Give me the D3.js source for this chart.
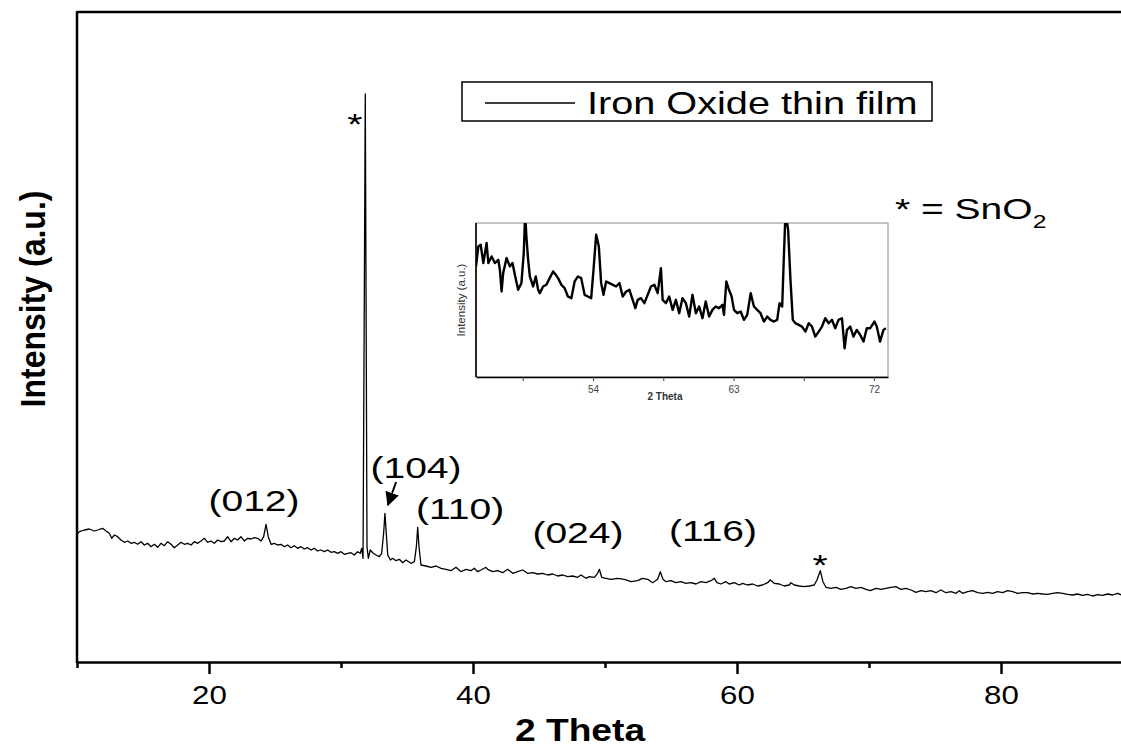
<!DOCTYPE html>
<html>
<head>
<meta charset="utf-8">
<script src="https://cdnjs.cloudflare.com/ajax/libs/d3/7.8.5/d3.min.js"></script>
<style>
body { margin: 0; background: #fff; }
svg { display: block; font-family: "Liberation Sans", Arial, sans-serif; }
</style>
</head>
<body>
<div id="chart"></div>
<script>
// main XRD pattern (2 theta, intensity a.u.)
var theta = [10.05,10.18,10.56,10.93,11.31,11.57,11.94,12.20,12.45,12.63,12.83,13.08,13.33,13.59,13.84,14.09,14.34,14.60,14.85,15.10,15.35,15.61,15.86,16.11,16.36,16.62,16.87,17.12,17.37,17.63,17.88,18.13,18.38,18.64,18.89,19.14,19.39,19.65,19.90,20.15,20.40,20.66,20.91,21.16,21.41,21.67,21.92,22.17,22.42,22.68,22.93,23.18,23.43,23.69,23.94,24.14,24.32,24.49,24.70,24.95,25.20,25.45,25.71,25.96,26.21,26.46,26.72,26.97,27.22,27.47,27.73,27.98,28.23,28.48,28.74,28.99,29.24,29.49,29.75,30.00,30.25,30.51,
    30.76,31.01,31.26,31.46,31.57,31.67,31.84,31.97,32.07,32.22,32.40,32.65,32.90,33.08,33.23,33.33,33.43,33.54,33.74,33.91,34.17,34.42,34.67,34.92,35.30,35.56,35.71,35.81,35.91,36.06,36.44,36.82,37.20,37.58,37.95,38.33,38.71,39.09,39.47,39.85,40.10,40.35,40.61,40.98,41.11,41.49,41.87,42.25,42.63,43.01,43.38,43.76,44.14,44.52,44.90,45.28,45.66,46.04,46.41,46.79,47.17,47.55,47.93,48.18,48.56,48.81,49.19,49.44,49.57,49.75,50.08,50.45,50.96,
    51.46,51.97,52.47,52.85,53.23,53.61,53.99,54.19,54.39,54.62,54.99,55.37,55.75,56.13,56.51,56.89,57.27,57.65,58.03,58.28,58.48,58.78,59.16,59.41,59.79,60.17,60.42,60.80,61.18,61.56,61.94,62.32,62.52,62.82,63.20,63.58,63.96,64.09,64.34,64.72,65.10,65.48,65.85,66.06,66.31,66.51,66.74,67.12,67.50,67.87,68.25,68.63,69.01,69.39,69.77,70.10,
    70.53,70.91,71.28,71.66,72.04,72.42,72.80,73.18,73.56,73.94,74.31,74.69,75.07,75.45,75.83,76.21,76.59,76.84,77.09,77.47,77.85,78.23,78.61,78.99,79.36,79.74,80.12,80.50,80.88,81.26,81.64,82.02,82.40,82.77,83.15,83.53,83.91,84.29,84.67,85.05,85.43,85.80,86.18,86.56,86.94,87.32,87.70,88.08,88.46,88.84,89.17];
var intensity = [1283,1303,1320,1330,1310,1320,1337,1310,1287,1237,1270,1253,1220,1197,1210,1187,1197,1177,1203,1170,1187,1153,1177,1147,1187,1163,1203,1177,1143,1170,1197,1177,1187,1170,1203,1187,1210,1237,1197,1210,1187,1220,1203,1210,1253,1203,1237,1220,1253,1210,1237,1230,1243,1237,1210,1253,1377,1253,1177,1187,1170,1177,1153,1170,1143,1163,1137,1153,1130,1143,1120,1137,1110,1120,1103,1120,1097,1103,1087,1103,1077,1087,
    1093,1070,1103,1087,1137,1037,5680,1153,1037,1120,1093,1070,1053,1087,1287,1487,1287,1070,1020,1037,1013,1027,993,1020,987,1003,1153,1347,1153,970,960,947,960,937,927,913,947,903,927,913,937,903,920,947,927,903,913,893,927,887,903,920,887,893,880,887,870,880,860,870,853,860,847,870,837,853,847,887,927,847,837,827,837,
    827,803,813,837,827,793,827,903,827,803,813,793,803,787,793,780,803,793,813,837,793,780,803,780,793,770,787,770,780,760,770,793,820,787,780,760,770,793,770,760,753,760,770,820,913,803,747,737,747,727,737,753,737,747,727,713,
    737,727,737,747,753,727,737,720,697,713,703,713,693,720,693,703,687,713,687,703,713,693,687,697,687,703,693,713,703,687,693,693,680,687,680,677,687,693,687,677,670,680,667,677,660,673,667,680,670,687,667];

// inset: enlarged 46.5 - 73 region
var insetTheta = [46.50,46.65,46.80,46.97,47.18,47.29,47.50,47.71,47.93,48.03,48.14,48.24,48.46,48.67,48.84,48.99,49.20,49.41,49.56,49.65,49.73,49.84,49.95,50.16,50.33,50.48,50.59,50.80,51.01,51.22,51.44,51.61,51.76,51.97,52.18,52.39,52.61,52.82,53.03,53.24,53.46,53.67,53.88,54.03,54.20,54.37,54.52,54.67,54.84,55.05,55.27,55.48,55.69,55.90,56.12,56.33,56.54,56.71,56.86,57.07,57.29,57.50,57.71,57.93,58.14,58.35,58.46,58.67,58.88,59.10,59.31,59.52,59.73,59.95,60.16,60.37,60.59,60.80,61.01,61.22,61.44,61.65,61.86,62.07,62.29,62.39,62.54,62.71,62.88,63.03,63.24,63.46,63.67,63.88,64.10,64.31,64.52,64.73,64.95,65.16,65.37,65.59,65.80,65.95,66.12,66.22,66.33,66.50,66.65,66.80,66.97,67.18,67.39,67.61,67.82,68.03,68.24,68.46,68.67,68.88,69.10,69.31,69.52,69.73,69.95,70.12,70.27,70.48,70.69,70.90,71.12,71.33,71.54,71.76,72.03,72.18,72.39,72.61,72.76];
var insetIntensity = [331,391,396,341,401,341,361,341,351,321,256,311,356,331,341,306,261,281,371,490,420,351,301,271,301,261,251,271,276,296,316,306,296,276,266,241,236,286,301,296,246,241,236,321,426,391,281,246,286,281,276,271,281,241,256,261,231,206,231,236,221,246,271,276,251,326,231,221,241,201,231,191,236,221,181,246,191,211,176,226,181,201,211,206,216,186,286,261,241,201,191,196,171,186,251,211,201,191,166,181,171,166,171,221,211,351,490,441,291,171,161,156,151,136,161,151,121,136,151,176,161,171,146,171,176,86,141,151,121,141,126,106,146,146,166,151,106,141,146];

var majorTicks = [20, 40, 60, 80];
var minorTicks = [10, 30, 50, 70, 90];
var insetTicks = [49.5, 54, 58.5, 63, 67.5, 72];
var insetTickLabels = [54, 63, 72];

// peak labels: text, 2theta position, intensity level of baseline
var peakNames = ['(012)', '(104)', '(110)', '(024)', '(116)'];
var peakTheta = [23.41, 35.68, 39.02, 47.95, 58.18];
var peakLevel = [1510, 1840, 1430, 1190, 1210];
var starTheta = [31.05, 66.29];
var starLevel = [5280, 870];

var chart_width = 1121;
var chart_height = 747;
var sx = 1.3; // horizontal stretch of the original figure

var svg = d3.select('#chart')
    .append('svg')
    .attr('width', chart_width)
    .attr('height', chart_height);

var x = d3.scaleLinear().domain([10, 90]).range([77, 77 + 80 * 13.2]);
var y = d3.scaleLinear().domain([0, 6500]).range([662, 12]);

svg.append('clipPath').attr('id', 'mainclip')
    .append('rect').attr('x', 77).attr('y', 12).attr('width', 1100).attr('height', 650);

// main line
var line = d3.line()
    .x(function(d){ return x(d[0]); })
    .y(function(d){ return y(d[1]); });

svg.append('path')
    .datum(d3.zip(theta, intensity))
    .attr('d', line)
    .attr('clip-path', 'url(#mainclip)')
    .attr('fill', 'none')
    .attr('stroke', '#000')
    .attr('stroke-width', 1.3)
    .attr('stroke-linejoin', 'round');

// frame
svg.append('line').attr('x1', 77).attr('x2', 1140).attr('y1', 12).attr('y2', 12)
    .attr('stroke', '#000').attr('stroke-width', 2.5);
svg.append('line').attr('x1', 77).attr('x2', 77).attr('y1', 11).attr('y2', 663)
    .attr('stroke', '#000').attr('stroke-width', 2.5);

// x axis
var xAxis = svg.append('g')
    .attr('transform', 'translate(0,662)')
    .call(d3.axisBottom(x).tickValues(majorTicks).tickSize(12).tickSizeOuter(0).tickPadding(12));
xAxis.select('.domain').attr('stroke-width', 2.5);
xAxis.selectAll('.tick line').attr('stroke-width', 2.5);
xAxis.selectAll('.tick text')
    .attr('font-size', 25)
    .attr('fill', '#000')
    .attr('font-family', '"Liberation Sans", Arial, sans-serif')
    .attr('transform', 'scale(1.25,1)');

var xMinor = svg.append('g')
    .attr('transform', 'translate(0,662)')
    .call(d3.axisBottom(x).tickValues(minorTicks).tickSize(6).tickSizeOuter(0).tickFormat(''));
xMinor.select('.domain').remove();
xMinor.selectAll('.tick line').attr('stroke-width', 2.5);

// axis titles
svg.append('text')
    .text('2 Theta')
    .attr('transform', 'translate(580,741) scale(1.2,1)')
    .attr('text-anchor', 'middle')
    .attr('font-size', 31)
    .attr('font-weight', 'bold');

svg.append('text')
    .text('Intensity (a.u.)')
    .attr('transform', 'translate(45,299) scale(1.1,1) rotate(-90)')
    .attr('text-anchor', 'middle')
    .attr('font-size', 32)
    .attr('font-weight', 'bold');

// peak labels
svg.selectAll('text.peak')
    .data(peakNames)
    .enter()
    .append('text')
    .attr('class', 'peak')
    .text(function(d){ return d; })
    .attr('transform', function(d, i){
        return 'translate(' + x(peakTheta[i]) + ',' + y(peakLevel[i]) + ') scale(' + sx + ',1)';
    })
    .attr('text-anchor', 'middle')
    .attr('font-size', 30);

svg.selectAll('text.star')
    .data(starTheta)
    .enter()
    .append('text')
    .attr('class', 'star')
    .text('*')
    .attr('transform', function(d, i){
        return 'translate(' + x(d) + ',' + y(starLevel[i]) + ') scale(' + sx + ',1)';
    })
    .attr('text-anchor', 'middle')
    .attr('font-size', 30);

// arrow to (104)
svg.append('defs').append('marker')
    .attr('id', 'arrowhead')
    .attr('viewBox', '0 0 10 10')
    .attr('refX', 9).attr('refY', 5)
    .attr('markerWidth', 7).attr('markerHeight', 7)
    .attr('markerUnits', 'strokeWidth')
    .attr('orient', 'auto')
    .append('path').attr('d', 'M0,0 L10,5 L0,10 z').attr('fill', '#000');

svg.append('line')
    .attr('x1', x(34.17)).attr('y1', y(1800))
    .attr('x2', x(33.56)).attr('y2', y(1570))
    .attr('stroke', '#000').attr('stroke-width', 2)
    .attr('marker-end', 'url(#arrowhead)');

// legend
var legend = svg.append('g');
legend.append('rect')
    .attr('x', 462).attr('y', 82).attr('width', 470).attr('height', 39)
    .attr('fill', '#fff').attr('stroke', '#000').attr('stroke-width', 1.5);
legend.append('line')
    .attr('x1', 485).attr('x2', 575).attr('y1', 103).attr('y2', 103)
    .attr('stroke', '#000').attr('stroke-width', 1.3);
legend.append('text')
    .text('Iron Oxide thin film')
    .attr('transform', 'translate(587,114) scale(1.24,1)')
    .attr('font-size', 32);

// * = SnO2 note
var note = svg.append('text')
    .attr('transform', 'translate(895,219) scale(' + sx + ',1)')
    .attr('font-size', 30);
note.append('tspan').text('* = SnO');
note.append('tspan').text('2').attr('font-size', 19).attr('dy', 9);

// inset
var inset = svg.append('g');
var ix = d3.scaleLinear().domain([46.5, 72.9]).range([476, 888]);
var iy = d3.scaleLinear().domain([0, 461]).range([377, 223]);

inset.append('rect')
    .attr('x', 476).attr('y', 223).attr('width', 412).attr('height', 154)
    .attr('fill', '#fff').attr('stroke', '#888').attr('stroke-width', 1);

svg.append('clipPath').attr('id', 'insetclip')
    .append('rect').attr('x', 476).attr('y', 223).attr('width', 412).attr('height', 154);

var iline = d3.line()
    .x(function(d){ return ix(d[0]); })
    .y(function(d){ return iy(d[1]); });

inset.append('path')
    .datum(d3.zip(insetTheta, insetIntensity))
    .attr('d', iline)
    .attr('clip-path', 'url(#insetclip)')
    .attr('fill', 'none')
    .attr('stroke', '#000')
    .attr('stroke-width', 2.4)
    .attr('stroke-linejoin', 'round');

var ixAxis = inset.append('g')
    .attr('transform', 'translate(0,377)')
    .call(d3.axisBottom(ix).tickValues(insetTicks).tickSize(4).tickSizeOuter(0).tickPadding(5)
        .tickFormat(function(d){ return insetTickLabels.indexOf(d) >= 0 ? d : ''; }));
ixAxis.select('.domain').attr('stroke-width', 1.6);
ixAxis.selectAll('.tick line').attr('stroke', '#444');
ixAxis.selectAll('.tick text')
    .attr('font-size', 10)
    .attr('fill', '#444')
    .attr('font-family', '"Liberation Sans", Arial, sans-serif');

inset.append('line').attr('x1', 476).attr('x2', 476).attr('y1', 223).attr('y2', 377)
    .attr('stroke', '#000').attr('stroke-width', 1.6);

inset.append('text')
    .text('2 Theta')
    .attr('x', 665).attr('y', 400)
    .attr('text-anchor', 'middle')
    .attr('font-size', 10)
    .attr('font-weight', 'bold')
    .attr('fill', '#333');

inset.append('text')
    .text('Intensity (a.u.)')
    .attr('transform', 'translate(465,300) rotate(-90)')
    .attr('text-anchor', 'middle')
    .attr('font-size', 11.5)
    .attr('fill', '#333');
</script>
</body>
</html>
